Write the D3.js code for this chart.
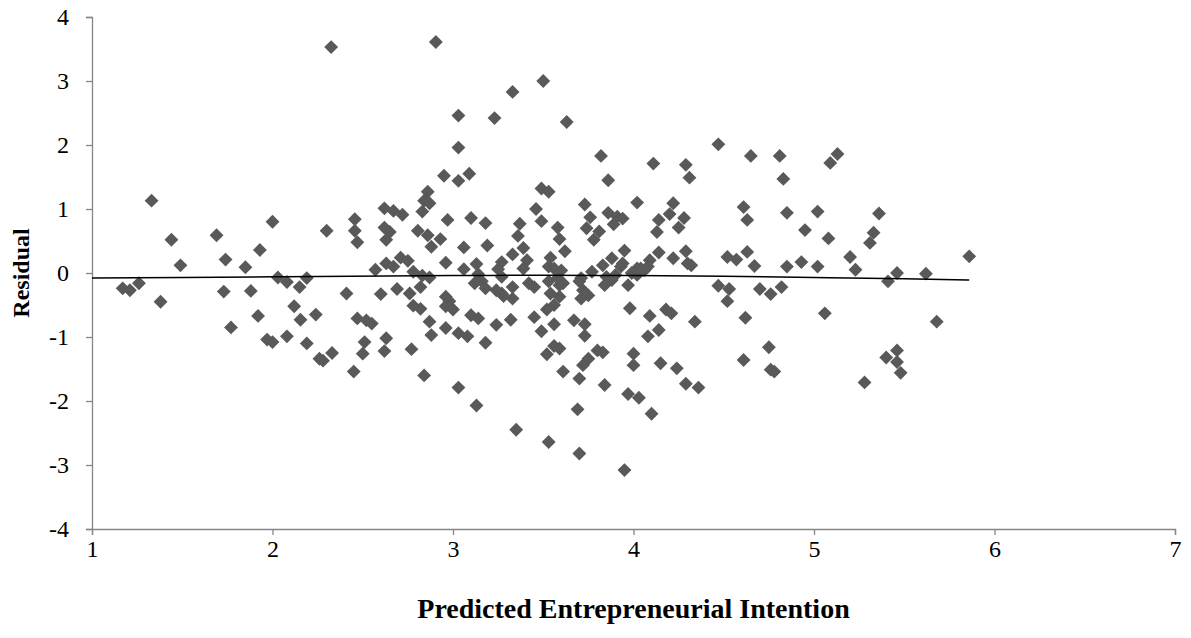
<!DOCTYPE html>
<html>
<head>
<meta charset="utf-8">
<script src="https://cdn.jsdelivr.net/npm/d3@7"></script>
<style>
  html, body { margin: 0; padding: 0; background: #fff; }
  #chart-area { width: 1191px; height: 638px; }
  text { font-family: "Liberation Serif", "Times New Roman", serif; fill: #000; }
</style>
</head>
<body>
<div id="chart-area"></div>
<script>
// residual plot data (x = predicted, y = residual)
const predicted = [
  1.17, 1.21, 1.26, 1.33, 1.38, 1.44, 1.49, 1.69, 1.73, 1.74, 1.77, 1.85, 1.88, 1.92, 1.93, 1.97, 2.00, 2.00, 2.03, 2.08,
  2.08, 2.12, 2.15, 2.155, 2.19, 2.19, 2.24, 2.26, 2.28, 2.30, 2.325, 2.33, 2.41, 2.45, 2.456, 2.456, 2.47, 2.47, 2.50, 2.51,
  2.52, 2.55,
  2.905, 3.50, 3.33, 3.03, 3.23, 3.63, 3.03, 3.82, 2.95, 3.09, 3.03, 3.86, 3.49, 3.53, 2.86, 2.84, 2.87, 2.83, 2.62, 2.67,
  2.72, 4.02, 3.73, 3.46, 3.49, 2.97, 3.10, 3.18, 3.37, 3.36, 3.58, 3.59, 3.76, 3.86, 3.91, 3.94, 3.89, 3.74, 3.81, 3.78,
  2.62, 2.65, 2.63, 2.805, 2.86, 2.93, 2.88, 3.06, 3.19, 3.39, 3.33, 3.41, 3.62, 3.54, 2.96, 3.13, 2.71, 2.75, 2.63, 2.67,
  2.57, 2.78, 3.06, 3.27, 3.25, 3.39, 3.53, 3.60, 3.77, 3.83, 3.88, 3.95, 3.94, 4.02, 3.14, 2.83, 2.87,
  2.60, 2.69, 2.76, 2.82, 2.78, 2.82, 2.96, 2.98, 2.96, 3.00, 3.12, 3.16, 3.18, 3.24, 3.27, 3.27, 3.33, 3.33, 3.28, 3.42,
  3.45, 3.53, 3.59, 3.54, 3.59, 3.61, 3.56, 3.58, 3.71, 3.70, 3.72, 3.75, 3.71, 3.84, 3.88, 3.90, 3.97, 3.99, 4.02, 3.56,
  3.52, 3.85, 3.93,
  2.63, 2.62, 2.77, 2.87, 2.88, 2.96, 3.03, 3.08, 3.10, 3.14, 3.18, 3.24, 3.32, 3.45, 3.49, 3.56, 3.67, 3.73, 3.73, 3.98,
  3.56, 3.59, 3.52, 3.80, 3.83, 3.75, 3.72, 3.70, 3.61, 3.84, 4.00, 4.00, 3.97, 4.03, 2.84, 3.03, 3.13, 3.69, 3.35, 3.53,
  3.70, 3.95,
  4.47, 4.11, 4.29, 4.31, 4.65, 4.81, 4.83, 5.13, 5.09, 4.22, 4.20, 4.28, 4.14, 4.25, 4.13, 4.61, 4.63, 4.85, 5.02, 4.95,
  5.08, 5.36, 5.33, 5.31, 4.14, 4.09, 4.22, 4.29, 4.30, 4.32, 4.04, 4.08, 4.52, 4.57, 4.63, 4.67, 4.85, 4.93, 5.02, 5.20,
  5.23, 5.46, 5.62, 5.86, 4.06,
  4.47, 4.53, 4.52, 4.70, 4.76, 4.82, 5.41, 4.09, 4.18, 4.21, 4.34, 4.62, 5.06, 4.14, 4.08, 4.15, 4.24, 4.29, 4.36, 4.61,
  4.75, 4.76, 4.78, 4.10, 5.28, 5.40, 5.46, 5.46, 5.48, 5.68
];
const residual = [
  -0.24, -0.27, -0.16, 1.13, -0.45, 0.52, 0.12, 0.59, -0.29, 0.21, -0.85, 0.09, -0.28, -0.67, 0.36, -1.04, 0.80, -1.08, -0.07, -0.14,
  -0.99, -0.52, -0.22, -0.73, -0.08, -1.10, -0.65, -1.34, -1.37, 0.66, 3.53, -1.25, -0.32, -1.54, 0.84, 0.66, 0.48, -0.71, -1.26, -1.08,
  -0.74, -0.79,
  3.61, 3.00, 2.83, 2.46, 2.42, 2.36, 1.96, 1.83, 1.52, 1.55, 1.44, 1.45, 1.32, 1.27, 1.27, 1.13, 1.09, 0.96, 1.01, 0.97,
  0.91, 1.10, 1.07, 1.00, 0.81, 0.83, 0.86, 0.78, 0.77, 0.58, 0.71, 0.53, 0.87, 0.94, 0.88, 0.85, 0.76, 0.70, 0.65, 0.52,
  0.71, 0.64, 0.52, 0.66, 0.59, 0.53, 0.41, 0.40, 0.43, 0.39, 0.29, 0.20, 0.34, 0.24, 0.16, 0.14, 0.24, 0.19, 0.15, 0.10,
  0.05, 0.02, 0.06, 0.17, 0.06, 0.07, 0.10, 0.04, 0.02, 0.12, 0.23, 0.35, 0.15, 0.07, -0.02, -0.04, -0.07,
  -0.33, -0.25, -0.32, -0.22, -0.51, -0.56, -0.37, -0.44, -0.52, -0.57, -0.16, -0.13, -0.24, -0.27, -0.32, -0.06, -0.22, -0.40, -0.36, -0.16,
  -0.22, -0.13, -0.19, -0.32, -0.37, -0.16, 0.07, -0.08, -0.08, -0.13, -0.27, -0.35, -0.40, -0.19, -0.11, -0.03, -0.19, 0.00, -0.03, -0.50,
  -0.57, -0.06, 0.10,
  -1.02, -1.22, -1.19, -0.76, -0.97, -0.86, -0.94, -0.99, -0.66, -0.71, -1.09, -0.81, -0.73, -0.69, -0.91, -0.80, -0.74, -0.80, -0.98, -0.55,
  -1.14, -1.18, -1.27, -1.21, -1.24, -1.34, -1.44, -1.65, -1.54, -1.75, -1.26, -1.44, -1.89, -1.95, -1.60, -1.79, -2.07, -2.13, -2.45, -2.64,
  -2.82, -3.08,
  2.01, 1.71, 1.69, 1.49, 1.83, 1.83, 1.47, 1.86, 1.72, 1.09, 0.92, 0.86, 0.83, 0.71, 0.64, 1.03, 0.83, 0.94, 0.96, 0.67,
  0.54, 0.93, 0.63, 0.47, 0.32, 0.20, 0.23, 0.34, 0.15, 0.12, 0.07, 0.10, 0.25, 0.21, 0.33, 0.11, 0.10, 0.17, 0.10, 0.25,
  0.05, 0.00, -0.01, 0.26, 0.04,
  -0.20, -0.25, -0.44, -0.25, -0.33, -0.22, -0.13, -0.67, -0.57, -0.63, -0.76, -0.70, -0.63, -0.89, -0.99, -1.41, -1.49, -1.73, -1.79, -1.36,
  -1.16, -1.51, -1.54, -2.20, -1.71, -1.32, -1.21, -1.39, -1.56, -0.76
];

// trend line (nearly flat polynomial fit)
const trendX = [1.0, 2.0, 3.0, 3.5, 4.0, 4.5, 5.0, 5.5, 5.86];
const trendY = [-0.08, -0.06, -0.04, -0.035, -0.04, -0.05, -0.07, -0.09, -0.11];

const xTicks = [1, 2, 3, 4, 5, 6, 7];
const yTicks = [-4, -3, -2, -1, 0, 1, 2, 3, 4];

const points = predicted.map((p, i) => ({ p: p, r: residual[i] }));
const trend = trendX.map((t, i) => ({ p: t, r: trendY[i] }));

const width = 1191;
const height = 638;
const margin = { left: 92, right: 16, top: 17, bottom: 109 };

const svg = d3.select("#chart-area")
  .append("svg")
  .attr("width", width)
  .attr("height", height);

const x = d3.scaleLinear()
  .domain([1, 7])
  .range([margin.left, width - margin.right]);

const y = d3.scaleLinear()
  .domain([-4, 4])
  .range([height - margin.bottom, margin.top]);

// x axis
const xAxis = svg.append("g")
  .attr("transform", `translate(0,${y(-4)})`)
  .call(d3.axisBottom(x).tickValues(xTicks).tickSize(6).tickPadding(5).tickFormat(d3.format("d")));

// y axis
const yAxis = svg.append("g")
  .attr("transform", `translate(${x(1)},0)`)
  .call(d3.axisLeft(y).tickValues(yTicks).tickSize(6).tickPadding(17).tickFormat(d => d < 0 ? "-" + Math.abs(d) : d));

[xAxis, yAxis].forEach(g => {
  g.select(".domain").attr("stroke", "#868686").attr("stroke-width", 1.3);
  g.selectAll(".tick line").attr("stroke", "#868686").attr("stroke-width", 1.3);
  g.selectAll(".tick text")
    .attr("font-family", "Liberation Serif, Times New Roman, serif")
    .attr("font-size", "24px")
    .attr("fill", "#000");
});

// diamonds
svg.append("g")
  .selectAll("path")
  .data(points)
  .join("path")
  .attr("d", d3.symbol().type(d3.symbolSquare).size(96))
  .attr("transform", d => `translate(${x(d.p)},${y(d.r)}) rotate(45)`)
  .attr("fill", "#595959");

// trend line
svg.append("path")
  .datum(trend)
  .attr("fill", "none")
  .attr("stroke", "#000")
  .attr("stroke-width", 1.5)
  .attr("d", d3.line().x(d => x(d.p)).y(d => y(d.r)).curve(d3.curveMonotoneX));

// axis titles
svg.append("text")
  .attr("x", (x(1) + x(7)) / 2)
  .attr("y", 618)
  .attr("text-anchor", "middle")
  .attr("font-size", "28px")
  .attr("font-weight", "bold")
  .text("Predicted Entrepreneurial Intention");

svg.append("text")
  .attr("transform", `translate(29,${y(0)}) rotate(-90)`)
  .attr("text-anchor", "middle")
  .attr("font-size", "24px")
  .attr("font-weight", "bold")
  .text("Residual");
</script>
</body>
</html>
